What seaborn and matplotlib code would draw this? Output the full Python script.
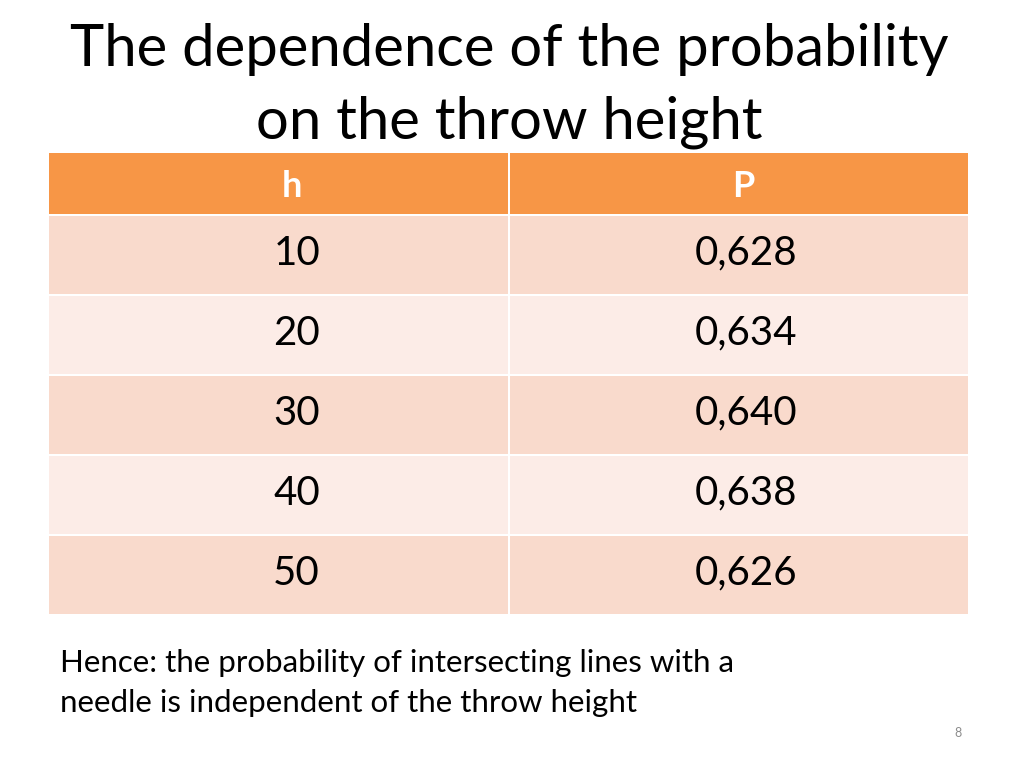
import numpy as np
import pandas as pd
import matplotlib
matplotlib.use("Agg")
import matplotlib.pyplot as plt
from matplotlib.colors import ListedColormap
import seaborn as sns

# table data
headers = ["h", "P"]
heights = ["10", "20", "30", "40", "50"]
probs = ["0,628", "0,634", "0,640", "0,638", "0,626"]

title = "The dependence of the probability\non the throw height"
note = "Hence: the probability of intersecting lines with a\nneedle is independent of the throw height"
page_no = "8"

sns.set_style("white")
plt.rcParams['font.family'] = ['Lato', 'DejaVu Sans']

header_col = "#F79646"
band_dark = "#F9DACC"
band_light = "#FCECE7"

fig = plt.figure(figsize=(10.24, 7.68), dpi=100)
fig.patch.set_facecolor("white")

# header row
ax_h = fig.add_axes([48 / 1024, 1 - 215 / 768, 921 / 1024, 63 / 768])
sns.heatmap(np.zeros((1, 2)), cmap=ListedColormap([header_col]), cbar=False,
            linewidths=1.2, linecolor="white", ax=ax_h)
ax_h.set_xticks([]); ax_h.set_yticks([])
for j, lab in enumerate(headers):
    ax_h.text(j + 0.5 + (0.03 if j == 0 else 0.01), 0.55, lab, ha="center", va="center",
              fontsize=26, fontweight="bold", color="white")

# body rows, banded
band = pd.DataFrame({"h": [i % 2 for i in range(len(heights))],
                     "P": [i % 2 for i in range(len(heights))]})
ax_b = fig.add_axes([48 / 1024, 1 - 615 / 768, 921 / 1024, 400 / 768])
sns.heatmap(band, cmap=ListedColormap([band_dark, band_light]), cbar=False,
            vmin=0, vmax=1, linewidths=1.2, linecolor="white", ax=ax_b)
ax_b.set_xticks([]); ax_b.set_yticks([])
for i, (hv, pv) in enumerate(zip(heights, probs)):
    ax_b.text(0.5 + 0.04, i + 0.48, hv, ha="center", va="center", fontsize=29, color="black")
    ax_b.text(1.5 + 0.015, i + 0.48, pv, ha="center", va="center", fontsize=29, color="black")

fig.text(509 / 1024, 1 - 86 / 768, title, ha="center", va="center", fontsize=41.8,
         color="black", linespacing=1.45)
fig.text(60 / 1024, 1 - 683 / 768, note, ha="left", va="center", fontsize=22.5,
         color="black", linespacing=1.5)
fig.text(958 / 1024, 1 - 733 / 768, page_no, ha="center", va="center", fontsize=9,
         color="#8C8C8C")

fig.savefig("out.png", dpi=100, facecolor="white")
